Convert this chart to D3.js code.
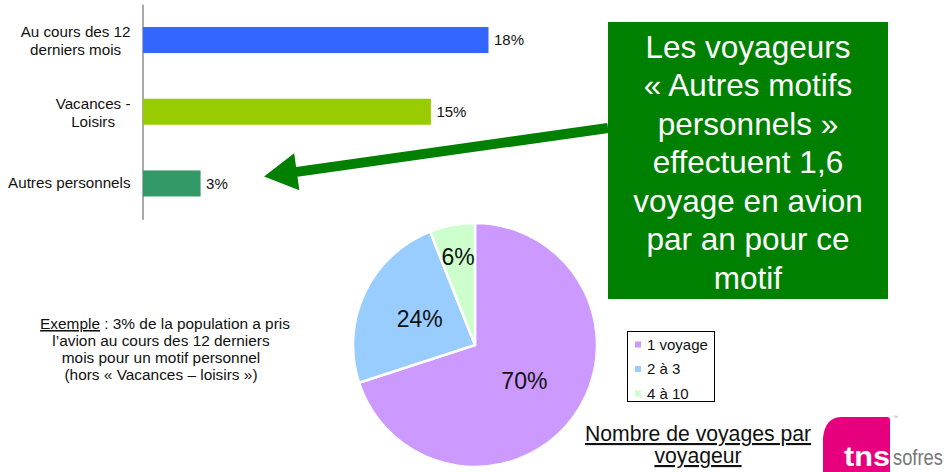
<!DOCTYPE html>
<html>
<head>
<meta charset="utf-8">
<script src="https://cdn.jsdelivr.net/npm/d3@7"></script>
<style>
  html, body { margin: 0; padding: 0; background: #fff; }
  svg { display: block; font-family: "Liberation Sans", Arial, sans-serif; }
</style>
</head>
<body>
<div id="chart"></div>
<script>
// bar chart data
const categories = ["Au cours des 12 derniers mois", "Vacances - Loisirs", "Autres personnels"];
const categoryLines = [["Au cours des 12", "derniers mois"], ["Vacances -", "Loisirs"], ["Autres personnels"]];
const barValues = [18, 15, 3];
const barColors = ["#3366ff", "#99cc00", "#339966"];

// pie data
const pieLabels = ["1 voyage", "2 à 3", "4 à 10"];
const pieValues = [70, 24, 6];
const pieColors = ["#cc99ff", "#99ccff", "#ccffcc"];

const calloutLines = ["Les voyageurs", "« Autres motifs", "personnels »", "effectuent 1,6",
  "voyage en avion", "par an pour ce", "motif"];
const exampleLines = ["l’avion au cours des 12 derniers", "mois pour un motif personnel",
  "(hors « Vacances – loisirs »)"];
const pieTitle = ["Nombre de voyages par", "voyageur"];

const width = 944, height = 472;

const svg = d3.select("#chart").append("svg")
  .attr("width", width)
  .attr("height", height);

// ---- bars ----
const x = d3.scaleLinear().domain([0, 18]).range([142.5, 488]);
const y = d3.scaleBand().domain(categories).range([4.2, 219.3])
  .paddingInner(0.637).paddingOuter(0.3185);

const yAxis = d3.axisLeft(y).tickSize(0).tickSizeOuter(0).tickFormat("");
const axisG = svg.append("g")
  .attr("transform", `translate(${x(0)},0)`)
  .call(yAxis);
axisG.select(".domain").attr("stroke", "#707070").attr("stroke-width", 1.2);

svg.selectAll("rect.bar")
  .data(barValues)
  .join("rect")
  .attr("class", "bar")
  .attr("x", x(0) + 0.5)
  .attr("y", (d, i) => y(categories[i]))
  .attr("width", d => x(d) - x(0))
  .attr("height", y.bandwidth())
  .attr("fill", (d, i) => barColors[i]);

svg.selectAll("text.val")
  .data(barValues)
  .join("text")
  .attr("class", "val")
  .attr("x", d => x(d) + 6)
  .attr("y", (d, i) => y(categories[i]) + y.bandwidth() / 2)
  .attr("dy", "0.35em")
  .attr("font-size", 15)
  .attr("fill", "#111")
  .text(d => d + "%");

// category labels, lines centred inside a right-aligned block
categoryLines.forEach((lines, i) => {
  const cy = y(categories[i]) + y.bandwidth() / 2;
  const g = svg.append("g");
  const texts = lines.map((l, j) => g.append("text")
    .attr("font-size", 15.2)
    .attr("fill", "#111")
    .attr("text-anchor", "middle")
    .attr("y", lines.length === 1 ? cy + 5 : cy - 3 + j * 18)
    .text(l));
  const maxW = d3.max(texts, t => t.node().getComputedTextLength());
  texts.forEach(t => t.attr("x", x(0) - 12 - maxW / 2));
});

// ---- green arrow + callout ----
const tip = [x(3) + 64, y(categories[2]) + y.bandwidth() / 2 - 7];
const tail = [608, 128];
const ang = Math.atan2(tail[1] - tip[1], tail[0] - tip[0]);
const len = Math.hypot(tail[0] - tip[0], tail[1] - tip[1]);
const headL = 33, headW = 18.7, shaftW = 5;
const arrowPts = [[0, 0], [headL, -headW], [headL, -shaftW], [len, -shaftW],
  [len, shaftW], [headL, shaftW], [headL, headW]];
svg.append("path")
  .attr("d", d3.line()(arrowPts))
  .attr("transform", `translate(${tip[0]},${tip[1]}) rotate(${ang * 180 / Math.PI})`)
  .attr("fill", "#008000");

svg.append("rect")
  .attr("x", 608).attr("y", 22)
  .attr("width", 280).attr("height", 277)
  .attr("fill", "#008000");

svg.append("g").selectAll("text")
  .data(calloutLines)
  .join("text")
  .attr("x", 748)
  .attr("y", (d, i) => 57.5 + i * 38.5)
  .attr("text-anchor", "middle")
  .attr("font-size", 31.5)
  .attr("fill", "#fff")
  .text(d => d);

// ---- example text ----
const ex = svg.append("text")
  .attr("x", 165).attr("y", 329)
  .attr("text-anchor", "middle")
  .attr("font-size", 15.4)
  .attr("fill", "#111");
ex.append("tspan").attr("text-decoration", "underline").text("Exemple");
ex.append("tspan").text(" : 3% de la population a pris");
svg.append("g").selectAll("text")
  .data(exampleLines)
  .join("text")
  .attr("x", 161)
  .attr("y", (d, i) => 346 + i * 17)
  .attr("text-anchor", "middle")
  .attr("font-size", 15.4)
  .attr("fill", "#111")
  .text(d => d);

// ---- pie ----
const cx = 475, cyPie = 345, r = 122;
const pie = d3.pie().sort(null).value(d => d);
const arcs = pie(pieValues);
const arc = d3.arc().innerRadius(0).outerRadius(r);
const pieG = svg.append("g").attr("transform", `translate(${cx},${cyPie})`);

pieG.selectAll("path")
  .data(arcs)
  .join("path")
  .attr("d", arc)
  .attr("fill", (d, i) => pieColors[i])
  .attr("stroke", "#fff")
  .attr("stroke-width", 2.5)
  .attr("stroke-linejoin", "round");

pieG.selectAll("text")
  .data(arcs)
  .join("text")
  .attr("transform", d => {
    const lr = d.data < 10 ? 90 : 61;
    const c = d3.arc().innerRadius(lr).outerRadius(lr).centroid(d);
    return `translate(${c[0]},${c[1]})`;
  })
  .attr("text-anchor", "middle")
  .attr("dy", "0.35em")
  .attr("font-size", 23)
  .attr("fill", "#111")
  .text(d => d.data + "%");

// legend
const lg = svg.append("g");
lg.append("rect")
  .attr("x", 627.5).attr("y", 331.5)
  .attr("width", 87).attr("height", 70)
  .attr("fill", "#fff").attr("stroke", "#000").attr("stroke-width", 1);
pieLabels.forEach((lab, i) => {
  const ry = 344.5 + i * 24.5;
  lg.append("rect")
    .attr("x", 635).attr("y", ry - 3)
    .attr("width", 6).attr("height", 6)
    .attr("fill", pieColors[i]);
  lg.append("text")
    .attr("x", 647).attr("y", ry)
    .attr("dy", "0.35em")
    .attr("font-size", 15)
    .attr("fill", "#111")
    .text(lab);
});

svg.append("g").selectAll("text")
  .data(pieTitle)
  .join("text")
  .attr("x", 698)
  .attr("y", (d, i) => 441 + i * 22)
  .attr("text-anchor", "middle")
  .attr("font-size", 21.2)
  .attr("text-decoration", "underline")
  .attr("fill", "#111")
  .text(d => d);

// ---- tns sofres logo ----
const logo = svg.append("g");
logo.append("path")
  .attr("d", "M823,438 Q825,417 842,417 L887,417 Q890,417 890,420 L890,472 L823,472 Z")
  .attr("fill", "#e6007e");
logo.append("text")
  .attr("x", 844).attr("y", 466)
  .attr("font-size", 27).attr("font-weight", "bold")
  .attr("textLength", 46).attr("lengthAdjust", "spacingAndGlyphs")
  .attr("fill", "#fff")
  .text("tns");
logo.append("text")
  .attr("transform", "translate(893,465) scale(1,1.2)")
  .attr("font-size", 18.3)
  .attr("fill", "#777")
  .text("sofres");
logo.append("text")
  .attr("x", 893).attr("y", 419)
  .attr("font-size", 5)
  .attr("fill", "#999")
  .text("™");
</script>
</body>
</html>
